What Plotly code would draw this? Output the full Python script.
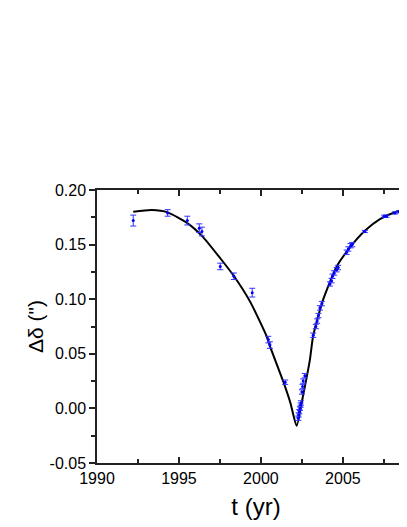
import plotly.graph_objects as go

# measured positions (yr, arcsec) with error bars
obs_t = [1992.21, 1994.31, 1995.51, 1996.24, 1996.40, 1997.52, 1998.35, 1999.47,
         2000.45, 2000.55, 2001.48,
         2002.28, 2002.30, 2002.34, 2002.38, 2002.42, 2002.44, 2002.50, 2002.54, 2002.58, 2002.68,
         2003.19, 2003.35, 2003.43, 2003.51, 2003.60, 2003.72,
         2004.21, 2004.31, 2004.37, 2004.47, 2004.62, 2004.71,
         2005.23, 2005.33, 2005.47, 2005.57, 2006.34,
         2007.52, 2007.66, 2008.17, 2008.43, 2008.68]
obs_d = [0.172, 0.179, 0.172, 0.165, 0.162, 0.130, 0.121, 0.106,
         0.063, 0.058, 0.024,
         -0.009, -0.006, -0.003, 0.000, 0.003, 0.005, 0.015, 0.020, 0.025, 0.030,
         0.067, 0.075, 0.080, 0.085, 0.092, 0.096,
         0.114, 0.117, 0.121, 0.124, 0.127, 0.129,
         0.143, 0.146, 0.149, 0.150, 0.162,
         0.176, 0.176, 0.179, 0.180, 0.181]
obs_err = [0.005, 0.003, 0.004, 0.004, 0.004, 0.003, 0.003, 0.004,
           0.003, 0.003, 0.002,
           0.002, 0.002, 0.002, 0.002, 0.002, 0.002, 0.002, 0.002, 0.002, 0.002,
           0.002, 0.002, 0.002, 0.002, 0.002, 0.002,
           0.002, 0.002, 0.002, 0.002, 0.002, 0.002,
           0.002, 0.002, 0.002, 0.002, 0.001,
           0.001, 0.001, 0.001, 0.001, 0.001]

# orbit fit
fit_t = [1992.21, 1993.34, 1994.31, 1995.51, 1996.40, 1997.52, 1998.35, 1999.33,
         2000.35, 2000.55, 2001.36, 2001.80, 2002.18, 2002.58, 2002.99, 2003.19,
         2003.80, 2004.62, 2005.43, 2006.34, 2007.26, 2008.27, 2008.88, 2009.4]
fit_d = [0.1801, 0.1816, 0.1795, 0.1697, 0.158, 0.1375, 0.1212, 0.098,
         0.066, 0.057, 0.0247, 0.005, -0.016, 0.0125, 0.0447, 0.0667,
         0.0998, 0.1299, 0.1473, 0.1626, 0.1733, 0.1801, 0.1819, 0.1828]

y_ticks = [-0.05, 0, 0.05, 0.10, 0.15, 0.20]
y_labels = ["-0.05", "0.00", "0.05", "0.10", "0.15", "0.20"]

font = "Arial, Liberation Sans, sans-serif"

fig = go.Figure()
fig.add_trace(go.Scatter(
    x=fit_t, y=fit_d, mode="lines",
    line=dict(color="black", width=2, shape="spline", smoothing=0.6),
    showlegend=False,
))
fig.add_trace(go.Scatter(
    x=obs_t, y=obs_d, mode="markers",
    marker=dict(color="#0000ff", size=3),
    error_y=dict(type="data", array=obs_err, color="#3333ff", thickness=1, width=3),
    showlegend=False,
))

# page body adds an 8px offset, so margins are trimmed to match
fig.update_layout(
    width=407, height=527,
    margin=dict(l=89, r=0, t=182, b=72),
    plot_bgcolor="white", paper_bgcolor="white",
    font=dict(family=font, size=16, color="black"),
)
fig.update_xaxes(
    range=[1990, 2009.4], tickvals=[1990, 1995, 2000, 2005],
    ticks="inside", ticklen=6, tickwidth=1.5, tickcolor="#222",
    minor=dict(tickvals=[1992.5, 1997.5, 2002.5, 2007.5], ticks="inside", ticklen=4, tickwidth=1.5, tickcolor="#222"),
    showline=True, linecolor="#222", linewidth=1.5, mirror="ticks",
    showgrid=False, zeroline=False,
    title=dict(text="t (yr)", font=dict(size=24), standoff=12),
)
fig.update_yaxes(
    range=[-0.05, 0.20], tickvals=y_ticks, ticktext=y_labels,
    ticks="outside", ticklen=6, tickwidth=1.5, tickcolor="#222",
    minor=dict(tickvals=[-0.025, 0.025, 0.075, 0.125, 0.175], ticks="outside", ticklen=4, tickwidth=1.5, tickcolor="#222"),
    showline=True, linecolor="#222", linewidth=1.5,
    showgrid=False, zeroline=False,
    title=dict(text="Δδ (\")", font=dict(size=21), standoff=0),
)

fig.write_html("out.html")
